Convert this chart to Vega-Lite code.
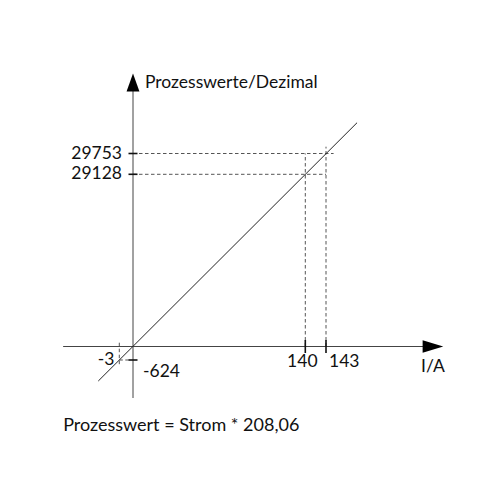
{
  "$schema": "https://vega.github.io/schema/vega-lite/v6.json",
  "description": "Prozesswert = Strom * 208,06 (schematic, not to scale)",
  "width": 500,
  "height": 500,
  "autosize": "none",
  "padding": 0,
  "background": "white",
  "config": {
    "view": {"stroke": null},
    "text": {"font": "Lato", "fontSize": 17.5, "color": "#111"}
  },
  "datasets": {
    "axes": [
      {"x": -15.3, "y": 0, "x2": 158.5, "y2": 0},
      {"x": 0, "y": -2381, "x2": 0, "y2": 31885}
    ],
    "line": [
      {"x": -7.6, "y": -1595, "x2": 147.5, "y2": 30678}
    ],
    "guides": [
      {"x": 0, "y": 29753, "x2": 144.1, "y2": 29753},
      {"x": 0, "y": 29128, "x2": 143, "y2": 29128},
      {"x": 140, "y": 0, "x2": 140, "y2": 29753},
      {"x": 143, "y": 0, "x2": 143, "y2": 29957},
      {"x": -3, "y": 643, "x2": -3, "y2": -934},
      {"x": -3, "y": -624, "x2": -0.66, "y2": -624}
    ],
    "yticks": [
      {"x": 0, "y": 29753, "label": "29753"},
      {"x": 0, "y": 29128, "label": "29128"},
      {"x": 0, "y": -624, "label": "-624"}
    ],
    "xticks": [
      {"x": 140, "y": 0, "label": "140"},
      {"x": 143, "y": 0, "label": "143"}
    ],
    "arrows": [
      {"x": 158.5, "y": 0, "axis": "x", "label": "I/A"},
      {"x": 0, "y": 31885, "axis": "y", "label": "Prozesswerte/Dezimal"}
    ]
  },
  "encoding": {
    "x": {"field": "x", "type": "quantitative", "axis": null,
          "scale": {"domain": [-3, 0, 140, 143], "range": [119.3, 133, 305.3, 326], "nice": false, "zero": false}},
    "y": {"field": "y", "type": "quantitative", "axis": null,
          "scale": {"domain": [-624, 0, 29128, 29753], "range": [360, 346.5, 174.3, 153.5], "nice": false, "zero": false}}
  },
  "layer": [
    {
      "data": {"name": "guides"},
      "mark": {"type": "rule", "stroke": "#555", "strokeWidth": 1, "strokeDash": [3.5, 2.5]},
      "encoding": {"x2": {"field": "x2"}, "y2": {"field": "y2"}}
    },
    {
      "data": {"name": "axes"},
      "mark": {"type": "rule", "stroke": "#444", "strokeWidth": 1},
      "encoding": {"x2": {"field": "x2"}, "y2": {"field": "y2"}}
    },
    {
      "data": {"name": "line"},
      "mark": {"type": "rule", "stroke": "#222", "strokeWidth": 1},
      "encoding": {"x2": {"field": "x2"}, "y2": {"field": "y2"}}
    },
    {
      "data": {"name": "yticks"},
      "mark": {"type": "tick", "orient": "horizontal", "size": 9, "thickness": 1.6, "color": "#111", "opacity": 1}
    },
    {
      "data": {"name": "xticks"},
      "mark": {"type": "tick", "orient": "vertical", "size": 13, "thickness": 1.6, "color": "#111", "opacity": 1}
    },
    {
      "data": {"name": "arrows"},
      "transform": [{"filter": "datum.axis == 'x'"}],
      "mark": {"type": "point", "shape": "M-1,-0.61L1,0L-1,0.61Z", "size": 424, "filled": true, "color": "#000", "opacity": 1}
    },
    {
      "data": {"name": "arrows"},
      "transform": [{"filter": "datum.axis == 'y'"}],
      "mark": {"type": "point", "shape": "M0,-1L0.72,1L-0.72,1Z", "size": 320, "filled": true, "color": "#000", "opacity": 1}
    },
    {
      "data": {"name": "yticks"},
      "transform": [{"filter": "datum.y > 0"}],
      "mark": {"type": "text", "align": "right", "baseline": "middle", "dx": -11},
      "encoding": {"text": {"field": "label"}}
    },
    {
      "data": {"name": "yticks"},
      "transform": [{"filter": "datum.y < 0"}],
      "mark": {"type": "text", "align": "left", "baseline": "middle", "dx": 10, "dy": 12},
      "encoding": {"text": {"field": "label"}}
    },
    {
      "data": {"name": "guides"},
      "transform": [{"filter": "datum.x == -3 && datum.y == -624"}],
      "mark": {"type": "text", "align": "right", "baseline": "middle", "dx": -5, "text": "-3"}
    },
    {
      "data": {"name": "xticks"},
      "transform": [{"filter": "datum.x == 140"}],
      "mark": {"type": "text", "align": "center", "baseline": "middle", "dx": -3, "dy": 15},
      "encoding": {"text": {"field": "label"}}
    },
    {
      "data": {"name": "xticks"},
      "transform": [{"filter": "datum.x == 143"}],
      "mark": {"type": "text", "align": "left", "baseline": "middle", "dx": 3, "dy": 15},
      "encoding": {"text": {"field": "label"}}
    },
    {
      "data": {"name": "arrows"},
      "transform": [{"filter": "datum.axis == 'x'"}],
      "mark": {"type": "text", "align": "center", "baseline": "alphabetic", "dy": 25},
      "encoding": {"text": {"field": "label"}}
    },
    {
      "data": {"name": "arrows"},
      "transform": [{"filter": "datum.axis == 'y'"}],
      "mark": {"type": "text", "align": "left", "baseline": "alphabetic", "dx": 12, "dy": 5.5},
      "encoding": {"text": {"field": "label"}}
    },
    {
      "data": {"name": "axes"},
      "transform": [{"filter": "datum.y == 0 && datum.x < 0"}],
      "mark": {"type": "text", "align": "left", "baseline": "alphabetic", "dy": 84, "fontSize": 18, "text": "Prozesswert = Strom * 208,06"}
    }
  ]
}
